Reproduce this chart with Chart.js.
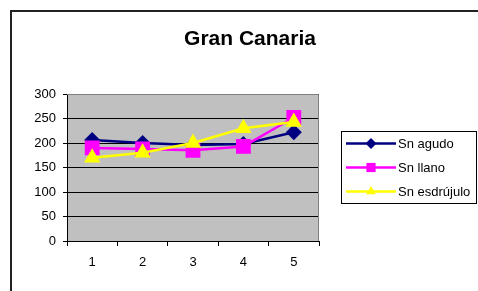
<!DOCTYPE html>
<html>
<head>
<meta charset="utf-8">
<script src="https://cdn.jsdelivr.net/npm/chart.js@4"></script>
<style>
  html, body { margin: 0; padding: 0; background: #fff; }
  #wrap { position: relative; width: 478px; height: 291px; }
  #frame { position: absolute; left: 10px; top: 10px; right: 0; bottom: 0;
           border-top: 2px solid #222; border-left: 2px solid #222; pointer-events: none; }
</style>
</head>
<body>
<div id="wrap">
  <canvas id="chart" width="478" height="291"></canvas>
  <div id="frame"></div>
</div>
<script>
const chartTitle = "Gran Canaria";
const categories = ["1", "2", "3", "4", "5"];
const agudo = [206, 200, 196, 198, 222];
const llano = [190, 188, 185, 193, 252];
const esdrujulo = [170, 180, 200, 230, 243];
const seriesNames = ["Sn agudo", "Sn llano", "Sn esdrújulo"];

const FONT = "'Liberation Sans', Arial, sans-serif";

/* ===== PLOT BACKGROUND ===== */
const plotBg = {
  id: "plotBg",
  beforeDraw(chart) {
    const { ctx, chartArea: a } = chart;
    ctx.save();
    ctx.fillStyle = "#c0c0c0";
    ctx.fillRect(a.left, a.top, a.right - a.left, a.bottom - a.top);
    ctx.restore();
  }
};

/* ===== TITLE + LEGEND ===== */
const legendSizes = [5.5, 6.5, 5.5];
const extras = {
  id: "extras",
  afterDraw(chart) {
    const { ctx, chartArea: a } = chart;
    ctx.save();
    // plot frame, right + top in grey
    ctx.strokeStyle = "#808080";
    ctx.lineWidth = 1;
    ctx.beginPath();
    ctx.moveTo(a.left, a.top + 0.5);
    ctx.lineTo(a.right - 0.5, a.top + 0.5);
    ctx.lineTo(a.right - 0.5, a.bottom);
    ctx.stroke();

    ctx.fillStyle = "#000";
    ctx.font = "bold 21px " + FONT;
    ctx.textAlign = "center";
    ctx.textBaseline = "alphabetic";
    ctx.fillText(chartTitle, 250, 44.5);

    // legend box
    const bx = 341, by = 131, bw = 136, bh = 72;
    ctx.strokeStyle = "#000";
    ctx.lineWidth = 1;
    ctx.strokeRect(bx + 0.5, by + 0.5, bw - 1, bh);
    ctx.font = "13px " + FONT;
    ctx.textAlign = "left";
    chart.data.datasets.forEach((ds, i) => {
      const y = 143.5 + i * 24;
      ctx.strokeStyle = ds.borderColor;
      ctx.lineWidth = 2.5;
      ctx.beginPath();
      ctx.moveTo(346, y);
      ctx.lineTo(396, y);
      ctx.stroke();
      ctx.fillStyle = ds.backgroundColor;
      Chart.helpers.drawPoint(ctx, {
        pointStyle: ds.pointStyle,
        radius: legendSizes[i],
        rotation: 0,
        borderWidth: 0
      }, 371, y);
      ctx.fillStyle = "#000";
      ctx.fillText(ds.label, 398, y + 4.5);
    });
    ctx.restore();
  }
};

const mk = (label, data, color, style, r, order) => ({
  label, data, order,
  borderColor: color,
  backgroundColor: color,
  borderWidth: 2.5,
  pointStyle: style,
  pointRadius: r,
  pointBorderWidth: 0,
  pointBackgroundColor: color,
  tension: 0
});

new Chart(document.getElementById("chart"), {
  type: "line",
  data: {
    labels: categories,
    datasets: [
      mk(seriesNames[0], agudo, "#000080", "rectRot", 8, 3),
      mk(seriesNames[1], llano, "#ff00ff", "rect", 10.5, 2),
      mk(seriesNames[2], esdrujulo, "#ffff00", "triangle", 9.5, 1)
    ]
  },
  options: {
    responsive: false,
    animation: false,
    layout: { padding: { left: 0, top: 94, right: 159, bottom: 0 } },
    plugins: { legend: { display: false }, title: { display: false }, tooltip: { enabled: false } },
    scales: {
      x: {
        offset: true,
        grid: { offset: true, drawOnChartArea: false, color: "#000", tickLength: 5, lineWidth: 1 },
        border: { color: "#000", width: 1 },
        ticks: { color: "#000", font: { family: FONT, size: 13 }, padding: 9 },
        afterFit(s) { s.height = 50; }
      },
      y: {
        min: 0, max: 300,
        ticks: { stepSize: 50, color: "#000", font: { family: FONT, size: 13 }, padding: 7 },
        grid: { color: "#000", tickLength: 4, lineWidth: 1 },
        border: { color: "#000", width: 1 },
        afterFit(s) { s.width = 67; }
      }
    }
  },
  plugins: [plotBg, extras]
});
</script>
</body>
</html>
